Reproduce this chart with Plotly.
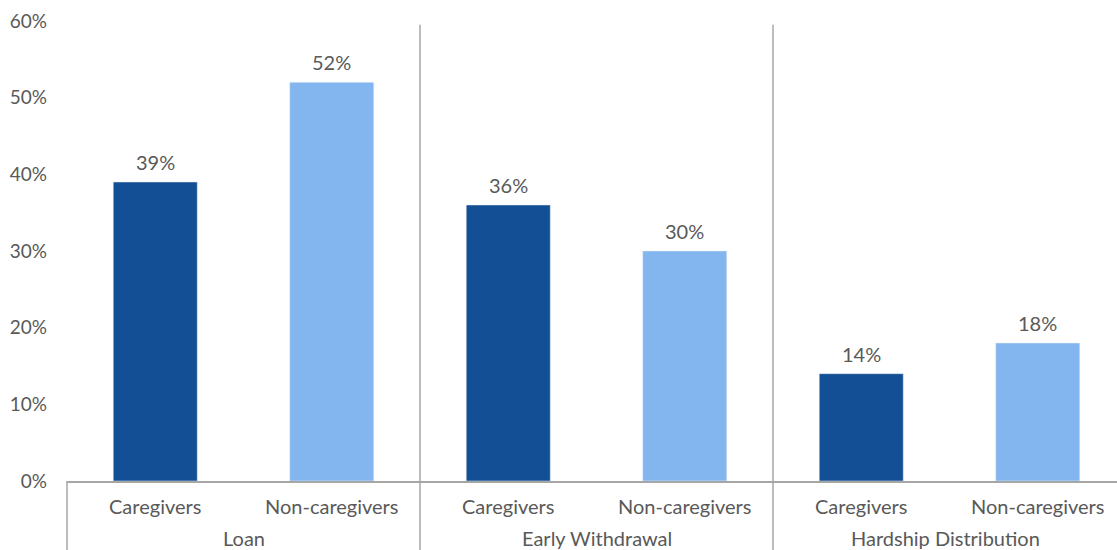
import plotly.graph_objects as go

groups = ["Loan", "Early Withdrawal", "Hardship Distribution"]
subgroups = ["Caregivers", "Non-caregivers"]
values = [39, 52, 36, 30, 14, 18]
sub_colors = ["#124F94", "#83B6EF"]
y_ticks = [0, 10, 20, 30, 40, 50, 60]
y_tick_text = [f"{t}%" for t in y_ticks]

FONT = "Lato"
TXT = "#595959"
LINE = "#A6A6A6"

keys = [f"{g}|{s}" for g in groups for s in subgroups]
colors = [c for _ in groups for c in sub_colors]

fig = go.Figure(go.Bar(
    x=keys, y=values, marker_color=colors, width=0.476, hoverinfo="x+y",
))

# data labels
for k, v in zip(keys, values):
    fig.add_annotation(x=k, y=v, text=f"{v}%", showarrow=False, xref="x", yref="y",
                       xanchor="center", yanchor="bottom", yshift=6,
                       font=dict(family=FONT, size=20, color=TXT))

xmin, xmax = -0.5, 5.449
plot_h = 460
bottom = 69

def px(v):
    return (v - xmin) / (xmax - xmin)

# sub-category labels
for k in keys:
    fig.add_annotation(x=k, y=0, xref="x", yref="paper", text=k.split("|")[1],
                       showarrow=False, xanchor="center", yanchor="middle", yshift=-25,
                       font=dict(family=FONT, size=20, color=TXT))

# group labels (centered on the visible part of each group) and dividers
n_sub = len(subgroups)
for gi, g in enumerate(groups):
    left = max(px(gi * n_sub - 0.5), 0)
    right = min(px((gi + 1) * n_sub - 0.5), 1)
    fig.add_annotation(x=(left + right) / 2, y=0, xref="paper", yref="paper", text=g,
                       showarrow=False, xanchor="center", yanchor="middle", yshift=-57,
                       font=dict(family=FONT, size=20, color=TXT))

for gi in range(len(groups) + 1):
    b = gi * n_sub - 0.5
    xp = px(b)
    if xp > 1.001:
        continue
    top = 0 if gi in (0, len(groups)) else 59.5 / 60
    fig.add_shape(type="line", xref="paper", yref="paper", x0=xp, x1=xp,
                  y0=-bottom / plot_h, y1=top, line=dict(color=LINE, width=1.5))

fig.update_layout(
    width=1117, height=550,
    margin=dict(l=67, r=0, t=21, b=bottom, autoexpand=False),
    plot_bgcolor="white", paper_bgcolor="white",
    showlegend=False,
    font=dict(family=FONT, size=19, color=TXT),
    xaxis=dict(type="category", range=[xmin, xmax], showline=True, linecolor=LINE,
               linewidth=1.5, showticklabels=False, ticks="", automargin=False,
               fixedrange=True),
    yaxis=dict(range=[0, 60], tickvals=y_ticks, ticktext=y_tick_text,
               showgrid=False, zeroline=False, showline=False, ticks="",
               ticklabelstandoff=19, automargin=False, fixedrange=True,
               tickfont=dict(family=FONT, size=19, color=TXT)),
)

fig.write_html("out.html", config={"displayModeBar": False},
               post_script="document.body.style.margin='0';document.body.style.overflow='hidden';")
